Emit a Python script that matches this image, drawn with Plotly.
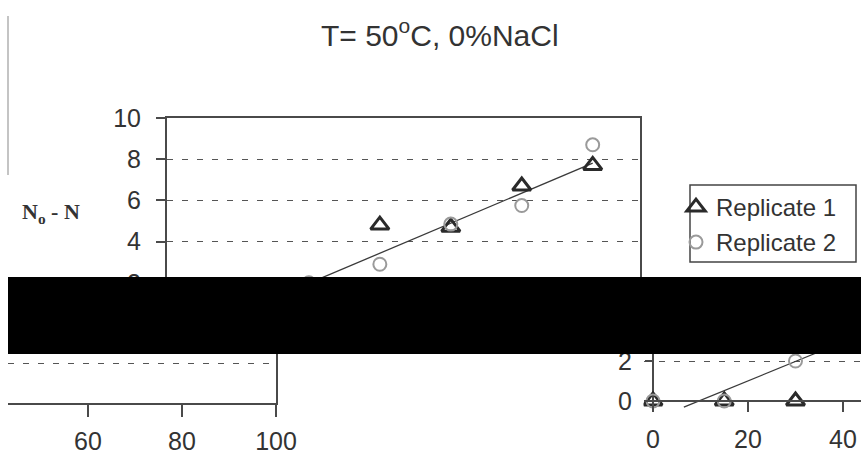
import numpy as np
import plotly.graph_objects as go

# ---------------- data ----------------
time_min = [0, 15, 30, 45, 60, 75, 90]
replicate1 = [0, 0, 0, 4.8, 4.7, 6.7, 7.7]
replicate2 = [0, 0, 2.0, 2.9, 4.85, 5.75, 8.7]
trend_span = [6.5, 90]
y_ticks = [0, 2, 4, 6, 8, 10]
x_ticks = [0, 20, 40, 60, 80, 100]
title_text = "T= 50<sup>o</sup>C, 0%NaCl"
y_title = "<b>N<sub>o</sub> - N</b>"
names = ["Replicate 1", "Replicate 2"]

# linear trendline fitted on both replicates
x_all = np.array(time_min + time_min, dtype=float)
y_all = np.array(replicate1 + replicate2, dtype=float)
slope, icpt = np.polyfit(x_all, y_all, 1)
trend_y = [slope * x + icpt for x in trend_span]

W, H = 861, 454
def px(x):
    return x / W
def py(y):
    return 1 - y / H

AX = "#4a4a4a"
GRID = "#555555"
TXT = "#333333"
TRI = "#2a2a2a"
CIR = "#9a9a9a"
FONT = "Liberation Sans, Arial, sans-serif"

fig = go.Figure()

for k, (xa, ya) in enumerate([("x", "y"), ("x2", "y2"), ("x3", "y3")]):
    clip = (k != 0)
    fig.add_trace(go.Scatter(x=trend_span, y=trend_y, mode="lines",
                             line=dict(color="#3a3a3a", width=1.3),
                             xaxis=xa, yaxis=ya, showlegend=False, hoverinfo="skip"))
    fig.add_trace(go.Scatter(x=time_min, y=replicate1, mode="markers", name=names[0],
                             marker=dict(symbol="triangle-up-open", size=16, color=TRI,
                                         line=dict(color=TRI, width=3)),
                             xaxis=xa, yaxis=ya, cliponaxis=clip,
                             showlegend=(k == 0), legend="legend"))
    fig.add_trace(go.Scatter(x=time_min, y=replicate2, mode="markers", name=names[1],
                             marker=dict(symbol="circle-open", size=13, color=CIR,
                                         line=dict(color=CIR, width=2)),
                             xaxis=xa, yaxis=ya, cliponaxis=clip,
                             showlegend=(k == 0), legend="legend2"))

common_x = dict(showgrid=False, zeroline=False, linecolor=AX, linewidth=2,
                tickcolor=AX, tickwidth=1.5, tickvals=x_ticks,
                tickfont=dict(family=FONT, size=25, color=TXT))
common_y = dict(zeroline=False, linecolor=AX, linewidth=2, tickcolor=AX, tickwidth=1.5,
                tickvals=y_ticks, showgrid=True, gridcolor=GRID, gridwidth=1.3,
                griddash="6px,9px", tickfont=dict(family=FONT, size=25, color=TXT))

# bottom-right piece scale: 4.75 px per minute, 0 min at x=653 px
c_ppu = 4.75
c_x0 = -2.0
c_left = 653 + c_x0 * c_ppu

legend_common = dict(xanchor="left", yanchor="top", bgcolor="rgba(0,0,0,0)",
                     borderwidth=0, font=dict(family=FONT, size=24, color=TXT))

fig.update_layout(
    width=W, height=H,
    margin=dict(l=0, r=0, t=0, b=0, autoexpand=False),
    paper_bgcolor="white", plot_bgcolor="rgba(0,0,0,0)",
    # main piece
    xaxis=dict(domain=[px(167), px(640)], range=[0, 100], anchor="y",
               showline=True, mirror=True, ticks="outside", ticklen=9,
               showticklabels=False, **common_x),
    yaxis=dict(domain=[py(324), py(118)], range=[0, 10], anchor="x",
               showline=True, mirror=True, ticks="outside", ticklen=9,
               ticklabelstandoff=10, **common_y),
    # bottom-left piece
    xaxis2=dict(domain=[px(8), px(276)], range=[43.0, 100], anchor="y2",
                showline=True, ticks="outside", ticklen=12,
                ticklabelstandoff=3, **common_x),
    yaxis2=dict(domain=[py(403), py(330)], range=[0, 3.74], anchor="x2",
                side="right", showline=True, ticks="", showticklabels=False,
                **common_y),
    # bottom-right piece
    xaxis3=dict(domain=[px(c_left), 1.0], range=[c_x0, c_x0 + (861 - c_left) / c_ppu],
                anchor="free", position=py(401), showline=True, ticks="outside",
                ticklen=10, ticklabelstandoff=6, **common_x),
    yaxis3=dict(domain=[py(413), py(331)], range=[-0.6, 3.5], anchor="free",
                position=px(653), showline=False, ticks="outside", ticklen=8,
                ticklabelstandoff=8, **common_y),
    legend=dict(x=px(676), y=py(185), **legend_common),
    legend2=dict(x=px(676), y=py(220), **legend_common),
    showlegend=True,
)

fig.add_annotation(text=title_text, x=px(440), y=py(33), xref="paper", yref="paper",
                   xanchor="center", yanchor="middle", showarrow=False,
                   font=dict(family=FONT, size=30, color=TXT))
fig.add_annotation(text=y_title, x=px(51), y=py(213), xref="paper", yref="paper",
                   xanchor="center", yanchor="middle", showarrow=False,
                   font=dict(family="Liberation Serif, Times New Roman, serif", size=22, color=TXT))

# y axis line of bottom-right piece (only above the x axis)
fig.add_shape(type="line", xref="x3", yref="y3", x0=0, x1=0, y0=0, y1=3.5,
              line=dict(color=AX, width=2), layer="between")
# legend frame
fig.add_shape(type="rect", xref="paper", yref="paper",
              x0=px(690), x1=px(856), y0=py(262), y1=py(185),
              line=dict(color="#444444", width=1.5), fillcolor="rgba(0,0,0,0)")
# faint scan edge at left
fig.add_shape(type="line", xref="paper", yref="paper",
              x0=px(8), x1=px(8), y0=py(175), y1=py(16),
              line=dict(color="#b0b0b0", width=1.5))
# redaction bar
fig.add_shape(type="rect", xref="paper", yref="paper",
              x0=px(8), x1=1.0, y0=py(354), y1=py(277),
              line=dict(width=0), fillcolor="black", layer="above")

fig.write_html("out.html")
